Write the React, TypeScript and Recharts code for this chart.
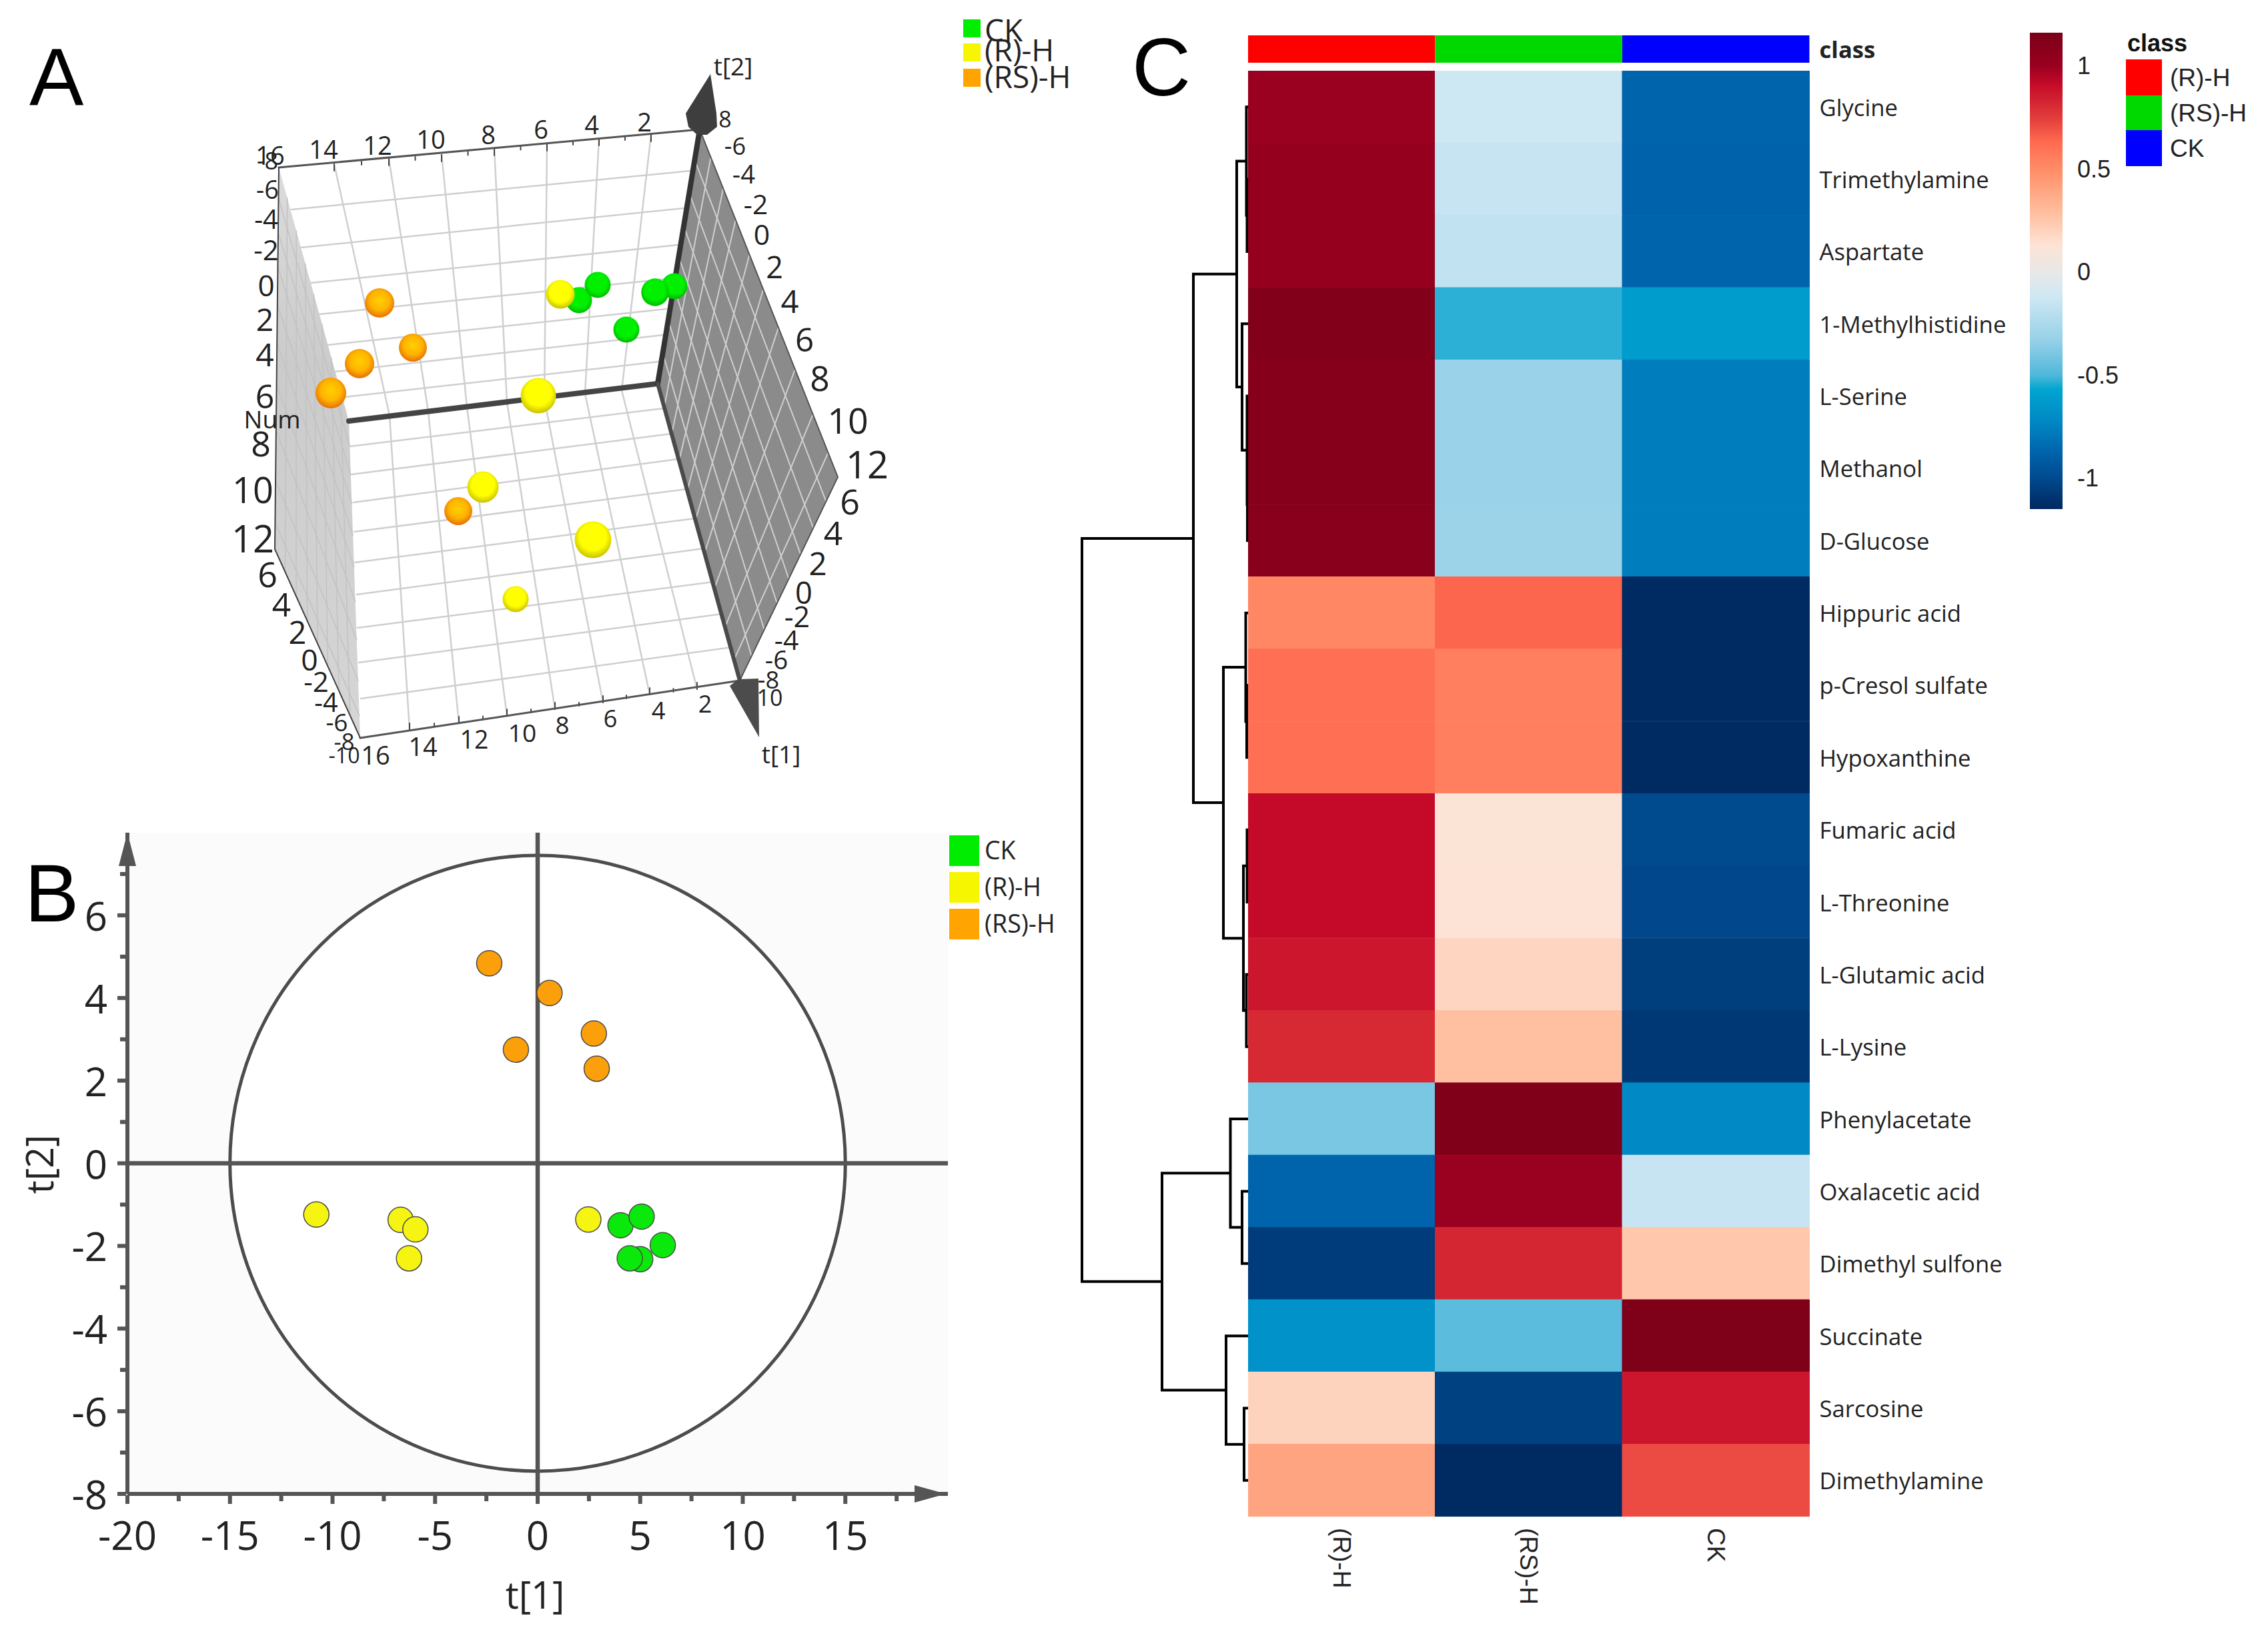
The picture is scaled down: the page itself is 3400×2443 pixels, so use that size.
import React from 'react';
import {
  ScatterChart, Scatter, XAxis, YAxis, ZAxis, CartesianGrid, ReferenceLine, ReferenceArea,
  ReferenceDot, BarChart, Bar, Cell,
} from 'recharts';

const SANS = '"Open Sans", sans-serif';
const ARIAL = '"Liberation Sans", Arial, sans-serif';

// ---- shared groups
const GROUP_GREEN = '#00ec00';
const GROUP_YELLOW = '#f6f600';
const GROUP_ORANGE = '#ffa400';

// ---- panel A: 3D score plot, values are positions on the projected view plane
const spheresCK = [
  { x: 868, y: 450, z: 5 }, { x: 896, y: 427, z: 5 }, { x: 1011, y: 429, z: 5 },
  { x: 982, y: 438, z: 17 }, { x: 939, y: 494, z: 5 },
];
const spheresRS = [
  { x: 569, y: 454, z: 31 }, { x: 619, y: 521, z: 20 }, { x: 539, y: 545, z: 31 },
  { x: 496, y: 589, z: 43 }, { x: 687, y: 766, z: 20 },
];
const spheresR = [
  { x: 840, y: 441, z: 26 }, { x: 807, y: 593, z: 86 }, { x: 724, y: 730, z: 48 },
  { x: 889, y: 809, z: 100 }, { x: 773, y: 898, z: 5 },
];

const backWall = [[418, 251], [1049, 194], [986, 575], [523, 631]];
const floorWall = [[523, 631], [986, 575], [1109, 1020], [540, 1106]];
const leftWall = [[418, 251], [412, 823], [540, 1106], [523, 631]];
const rightWall = [[1049, 194], [1256, 715], [1109, 1020], [986, 575]];

const t1TopTicks = [[501, 246], [583, 238], [662, 232], [741, 223], [820, 216], [898, 208], [976, 202]];
const t1MidTicks = [[584, 623], [642, 617], [700, 610], [760, 603], [816, 598], [877, 590], [932, 585]];
const t1LowTicks = [[614, 1094], [688, 1084], [760, 1073], [832, 1063], [904, 1053], [974, 1041], [1045, 1033]];
const backLeftTicks = [[437, 314], [451, 371], [466, 424], [479, 471], [492, 517], [503, 557], [517, 595]];
const backRightTicks = [[1035, 256], [1026, 312], [1017, 367], [1010, 417], [999, 463], [995, 502], [988, 542]];
const floorLeftTicks = [[525, 669], [527, 711], [530, 753], [531, 797], [532, 843], [535, 891], [536, 941], [538, 993], [541, 1047]];
const floorRightTicks = [[995, 612], [1007, 650], [1017, 688], [1030, 733], [1042, 777], [1055, 822], [1070, 872], [1083, 920], [1097, 970]];
const wallU = [0.08, 0.17, 0.26, 0.36, 0.46, 0.57, 0.69, 0.82, 0.93];
const wallV = [0.12, 0.25, 0.38, 0.5, 0.62, 0.75, 0.88];

const t2Cone = [[1028, 170], [1032, 190], [1045, 202], [1060, 202], [1075, 190], [1074, 170], [1065, 111]];
const t1Cone = [[1094, 1028], [1107, 1018], [1137, 1017], [1138, 1105]];

const labelGroups = [
  {
    text: ['16', '14', '12', '10', '8', '6', '4', '2'], sizes: [38, 38],
    pos: [[405, 232], [485, 223], [566, 217], [646, 208], [732, 201], [811, 193], [887, 186], [966, 182]],
  },
  {
    text: ['-8', '-6', '-4', '-2', '0', '2', '4', '6', '8', '10', '12'], sizes: [36, 56],
    pos: [[401, 240], [401, 283], [399, 327], [399, 373], [399, 427], [397, 478], [397, 530], [397, 593], [391, 663], [379, 733], [379, 806]],
  },
  {
    text: ['6', '4', '2', '0', '-2', '-4', '-6', '-8', '-10'], sizes: [52, 32],
    pos: [[401, 859], [422, 905], [446, 947], [464, 987], [474, 1020], [489, 1052], [505, 1081], [516, 1110], [516, 1131]],
  },
  {
    text: ['16', '14', '12', '10', '8', '6', '4', '2'], sizes: [38, 36],
    pos: [[563, 1131], [634, 1118], [711, 1107], [783, 1097], [843, 1086], [915, 1076], [987, 1064], [1057, 1054]],
  },
  {
    text: ['8', '-6', '-4', '-2', '0', '2', '4', '6', '8', '10', '12'], sizes: [34, 56],
    pos: [[1087, 178], [1102, 218], [1115, 260], [1133, 305], [1142, 350], [1161, 399], [1184, 451], [1206, 507], [1229, 566], [1271, 629], [1300, 695]],
  },
  {
    text: ['6', '4', '2', '0', '-2', '-4', '-6', '-8', '10'], sizes: [52, 34],
    pos: [[1274, 750], [1249, 798], [1226, 843], [1205, 887], [1195, 923], [1179, 958], [1164, 988], [1152, 1018], [1154, 1045]],
  },
  { text: ['t[2]', 't[1]', 'Num'], sizes: [37, 37], pos: [[1099, 98], [1171, 1129], [408, 627]] },
];

// ---- panel B: t[1] / t[2] scores
const scoresCK = [
  { x: 5.0, y: -2.32 }, { x: 4.49, y: -2.3 }, { x: 4.04, y: -1.5 }, { x: 5.07, y: -1.29 }, { x: 6.1, y: -1.98 },
];
const scoresR = [
  { x: -10.79, y: -1.24 }, { x: -6.68, y: -1.37 }, { x: -5.96, y: -1.6 }, { x: -6.27, y: -2.3 }, { x: 2.47, y: -1.36 },
];
const scoresRS = [
  { x: -2.36, y: 4.84 }, { x: 0.58, y: 4.12 }, { x: 2.74, y: 3.14 }, { x: -1.06, y: 2.75 }, { x: 2.88, y: 2.29 },
];
const xTicksB = [-20, -17.5, -15, -12.5, -10, -7.5, -5, -2.5, 0, 2.5, 5, 7.5, 10, 12.5, 15, 17.5];
const yTicksB = [-8, -7, -6, -5, -4, -3, -2, -1, 0, 1, 2, 3, 4, 5, 6, 7];
const gridXB = [-15, -10, -5, 5, 10, 15];
const gridYB = [-6, -4, -2, 2, 4, 6];
const ELLIPSE_X = 15;
const ELLIPSE_Y = 7.45;

// ---- panel C: heatmap z scores
const metabolites = [
  'Glycine', 'Trimethylamine', 'Aspartate', '1-Methylhistidine', 'L-Serine', 'Methanol', 'D-Glucose',
  'Hippuric acid', 'p-Cresol sulfate', 'Hypoxanthine', 'Fumaric acid', 'L-Threonine', 'L-Glutamic acid',
  'L-Lysine', 'Phenylacetate', 'Oxalacetic acid', 'Dimethyl sulfone', 'Succinate', 'Sarcosine', 'Dimethylamine',
];
const heatR = [1.0, 1.02, 1.03, 1.12, 1.1, 1.1, 1.09, 0.52, 0.61, 0.61, 0.91, 0.91, 0.87, 0.81, -0.4, -0.87, -1.06, -0.67, 0.2, 0.4];
const heatRS = [-0.12, -0.15, -0.17, -0.53, -0.32, -0.32, -0.31, 0.64, 0.55, 0.55, 0.12, 0.13, 0.19, 0.28, 1.13, 1.0, 0.82, -0.47, -1.04, -1.14];
const heatCK = [-0.87, -0.88, -0.87, -0.62, -0.77, -0.77, -0.77, -1.14, -1.14, -1.14, -1.0, -1.01, -1.05, -1.08, -0.72, -0.15, 0.25, 1.14, 0.87, 0.71];
const columnNames = ['(R)-H', '(RS)-H', 'CK'];
const columnTicks = [0.5, 1.5, 2.5];
const classColors = ['#ff0000', '#00d900', '#0000ff'];
const colorbarTicks = [-1, -0.5, 0, 0.5, 1];
const COLOR_MIN = -1.15;
const COLOR_MAX = 1.16;
const colorStops: [number, string][] = [
  [-1.15, '#00285f'], [-1, '#004a8e'], [-0.88, '#0062ab'], [-0.725, '#0088c4'], [-0.57, '#00a5d0'],
  [-0.5, '#4fb8da'], [-0.335, '#95d0e8'], [-0.117, '#cfe8f3'], [0, '#e8e8e8'], [0.13, '#fde3d5'],
  [0.285, '#ffbf9f'], [0.5, '#ff8c66'], [0.63, '#ff6a50'], [0.755, '#e03a3a'], [0.91, '#c40a28'],
  [1.0, '#9a0020'], [1.16, '#7a0018'],
];

// row dendrogram: h is the merge height, numbers are row indexes
type Node = number | { h: number; kids: [Node, Node] };
const dendroTree: Node = {
  h: 249,
  kids: [
    {
      h: 82,
      kids: [
        {
          h: 17,
          kids: [
            { h: 2.5, kids: [0, { h: 1.5, kids: [1, 2] }] },
            { h: 9, kids: [3, { h: 1.5, kids: [4, { h: 1, kids: [5, 6] }] }] },
          ],
        },
        {
          h: 37,
          kids: [
            { h: 3.5, kids: [7, { h: 2, kids: [8, 9] }] },
            { h: 7, kids: [{ h: 1.5, kids: [10, 11] }, { h: 2.5, kids: [12, 13] }] },
          ],
        },
      ],
    },
    {
      h: 129,
      kids: [
        { h: 26.5, kids: [14, { h: 9, kids: [15, 16] }] },
        { h: 33, kids: [17, { h: 6, kids: [18, 19] }] },
      ],
    },
  ],
};

const NoDot = () => null;
const pts = (list: number[][]) => list.map(([x, y]) => ({ x, y }));

function heatColor(z: number) {
  let i = 0;
  while (i < colorStops.length - 2 && z > colorStops[i + 1][0]) i++;
  const [z0, c0] = colorStops[i];
  const [z1, c1] = colorStops[i + 1];
  const t = Math.min(1, Math.max(0, (z - z0) / (z1 - z0)));
  const chan = (c: string, k: number) => parseInt(c.slice(k, k + 2), 16);
  const mix = (k: number) => Math.round(chan(c0, k) + (chan(c1, k) - chan(c0, k)) * t);
  return `rgb(${mix(1)},${mix(3)},${mix(5)})`;
}

function flattenTree(node: Node, out: { x: number; y: number }[][]): { h: number; y: number } {
  if (typeof node === 'number') return { h: 0, y: node + 0.5 };
  const a = flattenTree(node.kids[0], out);
  const b = flattenTree(node.kids[1], out);
  out.push([{ x: a.h, y: a.y }, { x: node.h, y: a.y }, { x: node.h, y: b.y }, { x: b.h, y: b.y }]);
  return { h: node.h, y: (a.y + b.y) / 2 };
}
const dendroSegments: { x: number; y: number }[][] = [];
flattenTree(dendroTree, dendroSegments);

const mix2 = (p: number[], q: number[], t: number) => [p[0] + (q[0] - p[0]) * t, p[1] + (q[1] - p[1]) * t];

// lattice on a side wall, spaced between the quad's edges
function wallLines(quad: number[][]) {
  const [a, b, c, d] = quad;
  const out: number[][][] = [];
  wallU.forEach((u) => out.push([mix2(a, b, u), mix2(d, c, u)]));
  wallV.forEach((v) => out.push([mix2(a, d, v), mix2(b, c, v)]));
  return out;
}

// small tick marks along the front edges: a long one on each grid line, a short one between
function edgeTicks(ticks: number[][], inward: number) {
  const out: number[][][] = [];
  ticks.forEach((p, i) => {
    out.push([p, [p[0], p[1] + inward]]);
    if (i < ticks.length - 1) {
      const m = mix2(p, ticks[i + 1], 0.5);
      out.push([m, [m[0], m[1] + inward * 0.5]]);
    }
  });
  return out;
}

const edge = (key: string, list: number[][], stroke: string, strokeWidth: number) => (
  <Scatter key={key} data={pts(list)} line={{ stroke, strokeWidth, strokeLinecap: 'round' }} shape={NoDot} isAnimationActive={false} />
);
const pane = (key: string, list: number[][], fill: string) => (
  <Scatter key={key} data={pts(list)} line={{ fill, stroke: 'none' }} shape={NoDot} isAnimationActive={false} />
);
const sphere = (grad: string) => (p: any) => <circle cx={p.cx} cy={p.cy} r={p.width / 2} fill={`url(#${grad})`} />;

const Gradient = ({ id, inner, outer }: { id: string; inner: string; outer: string }) => (
  <radialGradient id={id} cx="50%" cy="42%" r="58%">
    <stop offset="0%" stopColor={inner} />
    <stop offset="62%" stopColor={inner} />
    <stop offset="100%" stopColor={outer} />
  </radialGradient>
);

const PanelA = () => (
  <div style={{ position: 'absolute', left: 0, top: 0 }}>
    <ScatterChart width={1400} height={1200} margin={{ top: 0, right: 0, bottom: 0, left: 0 }}>
      <defs>
        <Gradient id="ballGreen" inner="#00f000" outer="#00b800" />
        <Gradient id="ballYellow" inner="#ffff00" outer="#c8c000" />
        <radialGradient id="ballOrange" cx="50%" cy="42%" r="60%">
          <stop offset="0%" stopColor="#ffd000" />
          <stop offset="55%" stopColor="#ffb400" />
          <stop offset="100%" stopColor="#e46a00" />
        </radialGradient>
        <linearGradient id="leftPane" x1="0" y1="0" x2="0" y2="1">
          <stop offset="0%" stopColor="#dcdcdc" />
          <stop offset="35%" stopColor="#cbcbcb" />
          <stop offset="100%" stopColor="#d6d6d6" />
        </linearGradient>
      </defs>
      <XAxis type="number" dataKey="x" domain={[0, 1400]} hide />
      <YAxis type="number" dataKey="y" domain={[0, 1200]} reversed hide />
      <ZAxis type="number" dataKey="z" domain={[0, 100]} range={[1134, 2376]} />
      {pane('left', leftWall, 'url(#leftPane)')}
      {wallLines(leftWall).map((l, i) => edge(`left-${i}`, l, '#c2c2c2', 1.5))}
      {pane('right', rightWall, '#8b8b8b')}
      {wallLines(rightWall).map((l, i) => edge(`wall-${i}`, l, '#cfcfcf', 2))}
      {t1TopTicks.map((p, i) => edge(`back-v-${i}`, [p, t1MidTicks[i]], '#cfcfcf', 2.5))}
      {t1MidTicks.map((p, i) => edge(`floor-v-${i}`, [p, t1LowTicks[i]], '#cfcfcf', 2.5))}
      {backLeftTicks.map((p, i) => edge(`back-h-${i}`, [p, backRightTicks[i]], '#cfcfcf', 2.5))}
      {floorLeftTicks.map((p, i) => edge(`floor-h-${i}`, [p, floorRightTicks[i]], '#cfcfcf', 2.5))}
      {edgeTicks(t1TopTicks, 10).map((l, i) => edge(`top-tick-${i}`, l, '#444', 2))}
      {edgeTicks(t1LowTicks, -10).map((l, i) => edge(`low-tick-${i}`, l, '#444', 2))}
      {edge('top-edge', [backWall[0], backWall[1]], '#555', 3)}
      {edge('low-edge', [floorWall[3], floorWall[2]], '#555', 3)}
      {edge('left-edge', [leftWall[0], leftWall[1], leftWall[2]], '#444', 2)}
      {edge('right-edge', [rightWall[0], rightWall[1], rightWall[2]], '#555', 2)}
      {edge('axis-back', [backWall[3], backWall[2]], '#444', 8)}
      {edge('axis-up', [backWall[1], backWall[2]], '#333', 8)}
      {edge('axis-down', [floorWall[1], floorWall[2]], '#4a4a4a', 6)}
      {pane('cone-t2', t2Cone, '#3e3e3e')}
      {pane('cone-t1', t1Cone, '#4c4c4c')}
      <Scatter data={spheresCK} shape={sphere('ballGreen')} isAnimationActive={false} />
      <Scatter data={spheresRS} shape={sphere('ballOrange')} isAnimationActive={false} />
      <Scatter data={spheresR} shape={sphere('ballYellow')} isAnimationActive={false} />
      {labelGroups.map((g, gi) => (
        <Scatter
          key={`labels-${gi}`}
          data={g.pos.map(([x, y], i) => ({
            x, y, text: g.text[i],
            fs: g.sizes[0] + ((g.sizes[1] - g.sizes[0]) * i) / (g.text.length - 1),
          }))}
          shape={(p: any) => (
            <text x={p.cx} y={p.cy} fontSize={p.payload.fs} fontFamily={SANS} fill="#222" textAnchor="middle" dominantBaseline="central">
              {p.payload.text}
            </text>
          )}
          isAnimationActive={false}
        />
      ))}
    </ScatterChart>
  </div>
);

const XTickB = ({ x, y, payload }: any) => {
  const major = payload.value % 5 === 0;
  return (
    <g>
      <line x1={x} x2={x} y1={y} y2={y + (major ? 13 : 9)} stroke="#555" strokeWidth={6} />
      {major && (
        <text x={x} y={y + 59} fontSize={60} fontFamily={SANS} fill="#222" textAnchor="middle" dominantBaseline="central">
          {payload.value}
        </text>
      )}
    </g>
  );
};
const YTickB = ({ x, y, payload }: any) => {
  const major = payload.value % 2 === 0;
  return (
    <g>
      <line x1={x} x2={x - (major ? 13 : 9)} y1={y} y2={y} stroke="#555" strokeWidth={6} />
      {major && (
        <text x={x - 28} y={y} fontSize={60} fontFamily={SANS} fill="#222" textAnchor="end" dominantBaseline="central">
          {payload.value}
        </text>
      )}
    </g>
  );
};
const dot = (fill: string) => (p: any) => <circle cx={p.cx} cy={p.cy} r={19} fill={fill} stroke="#4a4a4a" strokeWidth={1.5} />;

const PanelB = () => (
  <div style={{ position: 'absolute', left: 0, top: 1200 }}>
    <ScatterChart width={1500} height={1239} margin={{ top: 48, right: 79, bottom: 0, left: 0 }}>
      <XAxis
        type="number" dataKey="x" domain={[-20, 20]} ticks={xTicksB} interval={0} tickSize={0}
        height={200} axisLine={{ stroke: '#555', strokeWidth: 6 }} tick={XTickB} allowDataOverflow
        label={{
          content: () => (
            <text x={802} y={1189} fontSize={56} fontFamily={SANS} fill="#222" textAnchor="middle" dominantBaseline="central">t[1]</text>
          ),
        }}
      />
      <YAxis
        type="number" dataKey="y" domain={[-8, 8]} ticks={yTicksB} interval={0} tickSize={0}
        width={191} axisLine={{ stroke: '#555', strokeWidth: 6 }} tick={YTickB} allowDataOverflow
        label={{
          content: () => (
            <text transform="translate(58,545) rotate(-90)" fontSize={56} fontFamily={SANS} fill="#222" textAnchor="middle" dominantBaseline="central">t[2]</text>
          ),
        }}
      />
      <ReferenceArea x1={-20} x2={20} y1={-8} y2={8} fill="#fbfbfb" stroke="none" fillOpacity={1} />
      <ReferenceArea
        x1={-ELLIPSE_X} x2={ELLIPSE_X} y1={-ELLIPSE_Y} y2={ELLIPSE_Y}
        shape={(p: any) => (
          <ellipse cx={p.x + p.width / 2} cy={p.y + p.height / 2} rx={p.width / 2} ry={p.height / 2} fill="#fff" stroke="#4d4d4d" strokeWidth={5} />
        )}
      />
      <CartesianGrid verticalValues={gridXB} horizontalValues={gridYB} stroke="#ececec" strokeWidth={1.5} strokeDasharray="4 3" />
      <ReferenceLine x={0} stroke="#555" strokeWidth={6.5} />
      <ReferenceLine y={0} stroke="#555" strokeWidth={6.5} />
      <ReferenceDot
        x={-20} y={8} ifOverflow="visible"
        shape={(p: any) => <polygon points={`${p.cx},${p.cy} ${p.cx - 13},${p.cy + 50} ${p.cx + 13},${p.cy + 50}`} fill="#555" />}
      />
      <ReferenceDot
        x={20} y={-8} ifOverflow="visible"
        shape={(p: any) => <polygon points={`${p.cx - 3},${p.cy} ${p.cx - 50},${p.cy - 13} ${p.cx - 50},${p.cy + 13}`} fill="#555" />}
      />
      <Scatter data={scoresRS} shape={dot('#fb9f0a')} isAnimationActive={false} />
      <Scatter data={scoresR} shape={dot('#f5f511')} isAnimationActive={false} />
      <Scatter data={scoresCK} shape={dot('#0be80b')} isAnimationActive={false} />
    </ScatterChart>
  </div>
);

const rowTick = (fontWeight: string) => ({ x, y, payload }: any) => (
  <text x={x + 13} y={y} fontSize={34.7} fontWeight={fontWeight} fontFamily={SANS} fill="#222" dominantBaseline="central">
    {payload.value}
  </text>
);
const columnTick = ({ x, y, payload }: any) => (
  <text
    transform={`translate(${x},${y + 15}) rotate(90)`} fontSize={37} fontFamily={ARIAL} fill="#222" dominantBaseline="central"
  >
    {columnNames[columnTicks.indexOf(payload.value)]}
  </text>
);

const heatRows = metabolites.map((name) => ({ name, r: 1, rs: 1, ck: 1 }));

const Heatmap = () => (
  <div style={{ position: 'absolute', left: 1871, top: 106 }}>
    <BarChart
      layout="vertical" width={1141.5} height={2337} data={heatRows} barCategoryGap={0}
      margin={{ top: 0, right: 0, bottom: 0, left: 0 }}
    >
      <XAxis type="number" domain={[0, 3]} ticks={columnTicks} interval={0} height={170} tickSize={0} axisLine={false} tick={columnTick} />
      <YAxis type="category" dataKey="name" orientation="right" width={300} interval={0} tickSize={0} axisLine={false} tick={rowTick('normal')} />
      {[heatR, heatRS, heatCK].map((values, c) => (
        <Bar key={c} dataKey={['r', 'rs', 'ck'][c]} stackId="row" isAnimationActive={false}>
          {values.map((z, i) => <Cell key={`cell-${c}-${i}`} fill={heatColor(z)} stroke={heatColor(z)} strokeWidth={1} />)}
        </Bar>
      ))}
    </BarChart>
  </div>
);

const ClassBar = () => (
  <div style={{ position: 'absolute', left: 1871, top: 33 }}>
    <BarChart
      layout="vertical" width={1141.5} height={81} data={[{ name: 'class', r: 1, rs: 1, ck: 1 }]} barCategoryGap={0}
      margin={{ top: 20, right: 0, bottom: 20, left: 0 }}
    >
      <XAxis type="number" domain={[0, 3]} hide />
      <YAxis type="category" dataKey="name" orientation="right" width={300} tickSize={0} axisLine={false} tick={rowTick('bold')} />
      <Bar dataKey="r" stackId="c" fill={classColors[0]} isAnimationActive={false} />
      <Bar dataKey="rs" stackId="c" fill={classColors[1]} isAnimationActive={false} />
      <Bar dataKey="ck" stackId="c" fill={classColors[2]} isAnimationActive={false} />
    </BarChart>
  </div>
);

const ColorBar = () => (
  <div style={{ position: 'absolute', left: 3043, top: 49 }}>
    <BarChart
      width={169} height={714} data={[{ name: 'z', range: [COLOR_MIN, COLOR_MAX] }]} barCategoryGap={0}
      margin={{ top: 0, right: 0, bottom: 0, left: 0 }}
    >
      <defs>
        <linearGradient id="heatGradient" x1="0" y1="0" x2="0" y2="1">
          {[...colorStops].reverse().map(([z, c]) => (
            <stop key={z} offset={`${((COLOR_MAX - z) / (COLOR_MAX - COLOR_MIN)) * 100}%`} stopColor={c} />
          ))}
        </linearGradient>
      </defs>
      <XAxis dataKey="name" hide />
      <YAxis
        type="number" orientation="right" domain={[COLOR_MIN, COLOR_MAX]} ticks={colorbarTicks} interval={0}
        width={120} tickSize={0} axisLine={false}
        tick={({ x, y, payload }: any) => (
          <text x={x + 20} y={y} fontSize={36} fontFamily={ARIAL} fill="#222" dominantBaseline="central">{payload.value}</text>
        )}
      />
      <Bar dataKey="range" fill="url(#heatGradient)" isAnimationActive={false} />
    </BarChart>
  </div>
);

const Dendrogram = () => (
  <div style={{ position: 'absolute', left: 1612, top: 106 }}>
    <ScatterChart width={262} height={2167} margin={{ top: 0, right: 3, bottom: 0, left: 10 }}>
      <XAxis type="number" dataKey="x" domain={[0, 249]} reversed hide />
      <YAxis type="number" dataKey="y" domain={[0, 20]} reversed hide />
      {dendroSegments.map((seg, i) => (
        <Scatter key={i} data={seg} line={{ stroke: '#000', strokeWidth: 4 }} shape={NoDot} isAnimationActive={false} />
      ))}
    </ScatterChart>
  </div>
);

// ---- legends and panel letters
const legendA = [
  { name: 'CK', color: '#00ee00', y: 29, cy: 44 },
  { name: '(R)-H', color: '#f6f600', y: 65, cy: 74 },
  { name: '(RS)-H', color: '#ffa400', y: 103, cy: 114 },
];
const legendB = [
  { name: 'CK', color: GROUP_GREEN, y: 1252 },
  { name: '(R)-H', color: GROUP_YELLOW, y: 1307 },
  { name: '(RS)-H', color: GROUP_ORANGE, y: 1362 },
];
const legendC = [
  { name: '(R)-H', color: classColors[0], y: 89, h: 54 },
  { name: '(RS)-H', color: classColors[1], y: 143, h: 52 },
  { name: 'CK', color: classColors[2], y: 195, h: 54 },
];

const Overlay = () => (
  <svg width={3400} height={2443} style={{ position: 'absolute', left: 0, top: 0 }}>
    <text x={44} y={158} fontSize={122} fontFamily={ARIAL} fill="#000">A</text>
    <text x={37} y={1381} fontSize={122} fontFamily={ARIAL} fill="#000">B</text>
    <text x={1697} y={143} fontSize={122} fontFamily={ARIAL} fill="#000">C</text>
    {legendA.map((l) => (
      <g key={l.name}>
        <rect x={1444} y={l.y} width={26} height={27} fill={l.color} />
        <text x={1476} y={l.cy} fontSize={46} fontFamily={SANS} fill="#222" dominantBaseline="central">{l.name}</text>
      </g>
    ))}
    {legendB.map((l) => (
      <g key={l.name}>
        <rect x={1423} y={l.y} width={45} height={46} fill={l.color} />
        <text x={1476} y={l.y + 21} fontSize={37.5} fontFamily={SANS} fill="#222" dominantBaseline="central">{l.name}</text>
      </g>
    ))}
    <text x={3189} y={64} fontSize={36} fontWeight="bold" fontFamily={ARIAL} fill="#111" dominantBaseline="central">class</text>
    {legendC.map((l) => (
      <g key={l.name}>
        <rect x={3187} y={l.y} width={54} height={l.h} fill={l.color} />
        <text x={3253} y={l.y + l.h / 2} fontSize={37} fontFamily={ARIAL} fill="#222" dominantBaseline="central">{l.name}</text>
      </g>
    ))}
  </svg>
);

export default function App() {
  return (
    <div style={{ position: 'absolute', left: 0, top: 0, width: 3400, height: 2443, background: '#fff', overflow: 'hidden' }}>
      <Overlay />
      <PanelA />
      <PanelB />
      <Dendrogram />
      <ClassBar />
      <Heatmap />
      <ColorBar />
    </div>
  );
}
